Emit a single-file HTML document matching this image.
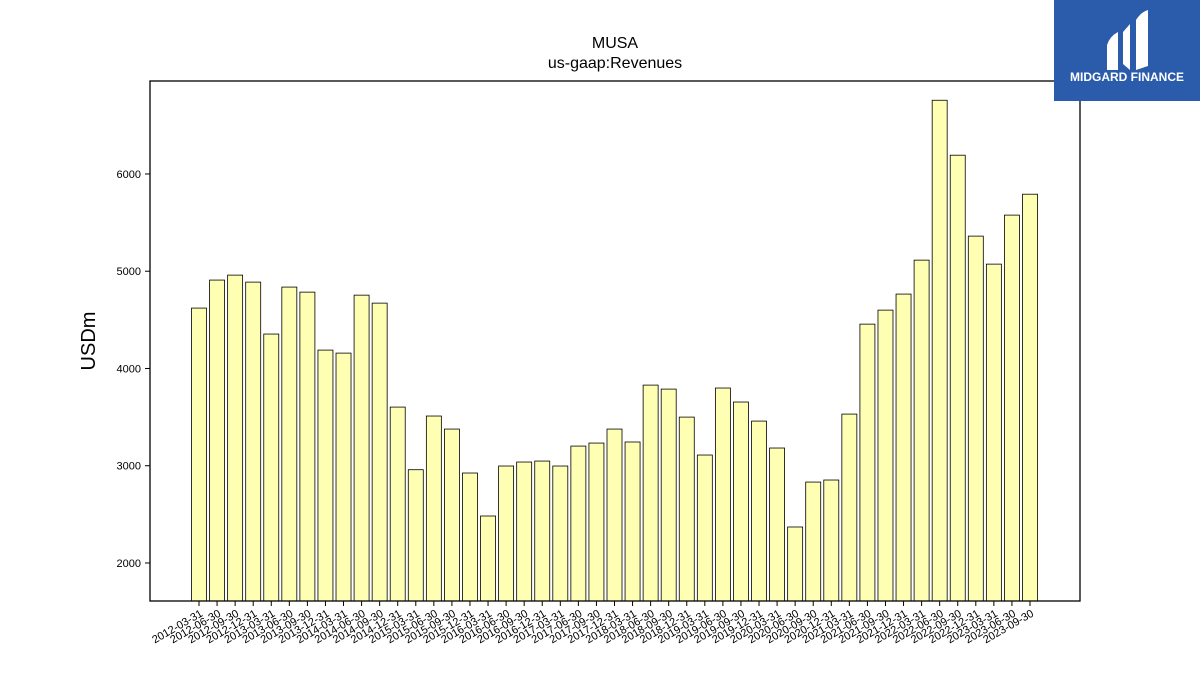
<!DOCTYPE html>
<html><head><meta charset="utf-8"><style>
body{margin:0;background:#fff;}
svg{display:block;font-family:"Liberation Sans","DejaVu Sans",sans-serif;}
</style></head><body>
<svg id="chart" width="1200" height="675" viewBox="0 0 1200 675">
<text x="615" y="48" text-anchor="middle" font-size="16">MUSA</text>
<text x="615" y="68" text-anchor="middle" font-size="16">us-gaap:Revenues</text>
<text transform="translate(95,341) rotate(-90)" text-anchor="middle" font-size="20">USDm</text>
<g id="bars"></g>
<g id="yticks"></g>
<g id="xticks"></g>
<rect x="150" y="81" width="930" height="520" fill="none" stroke="#000" stroke-width="1.3"/>
<g>
<rect x="1054" y="0" width="146" height="101" fill="#2b5bab"/>
<path d="M1107 45 Q1110 36 1118 32 L1118 70 L1107 70 Z M1123 32 L1130 24 L1130 70 L1123 64 Z M1136 20 Q1141 12 1148 10 L1148 66 L1136 70 Z" fill="#fff"/>
<text x="1127" y="81" text-anchor="middle" font-size="12" font-weight="bold" fill="#fff">MIDGARD FINANCE</text>
</g>
</svg>
<script>
const categories=["2012-03-31","2012-06-30","2012-09-30","2012-12-31","2013-03-31","2013-06-30","2013-09-30","2013-12-31","2014-03-31","2014-06-30","2014-09-30","2014-12-31","2015-03-31","2015-06-30","2015-09-30","2015-12-31","2016-03-31","2016-06-30","2016-09-30","2016-12-31","2017-03-31","2017-06-30","2017-09-30","2017-12-31","2018-03-31","2018-06-30","2018-09-30","2018-12-31","2019-03-31","2019-06-30","2019-09-30","2019-12-31","2020-03-31","2020-06-30","2020-09-30","2020-12-31","2021-03-31","2021-06-30","2021-09-30","2021-12-31","2022-03-31","2022-06-30","2022-09-30","2022-12-31","2023-03-31","2023-06-30","2023-09-30"];
const revenues=[4621,4909,4960,4888,4354,4837,4785,4189,4158,4754,4672,3603,2959,3511,3377,2925,2483,2997,3038,3048,2997,3202,3233,3377,3244,3829,3788,3500,3110,3799,3655,3459,3182,2370,2832,2853,3531,4456,4600,4765,5114,6758,6193,5361,5073,5577,5792];
const yTicks=[2000,3000,4000,5000,6000];
const NS="http://www.w3.org/2000/svg";
const yMin=1609,yMax=6956,plotTop=81,plotBot=601;
function y(v){return plotBot-(v-yMin)/(yMax-yMin)*(plotBot-plotTop);}
const x0=199,x1=1030;
function x(i){return x0+i*(x1-x0)/(categories.length-1);}
const bw=15;
const bars=document.getElementById('bars'),xt=document.getElementById('xticks'),yt=document.getElementById('yticks');
revenues.forEach((v,i)=>{
const r=document.createElementNS(NS,'rect');


r.setAttribute('x',x(i)-bw/2);r.setAttribute('y',y(v));r.setAttribute('width',bw);r.setAttribute('height',plotBot-y(v));
r.setAttribute('fill','#ffffb3');r.setAttribute('stroke','#000');r.setAttribute('stroke-width','0.8');
bars.appendChild(r);
});
categories.forEach((c,i)=>{
const l=document.createElementNS(NS,'line');


l.setAttribute('x1',x(i));l.setAttribute('x2',x(i));l.setAttribute('y1',plotBot);l.setAttribute('y2',plotBot+5);l.setAttribute('stroke','#000');
xt.appendChild(l);
const t=document.createElementNS(NS,'text');


t.setAttribute('transform','translate('+(x(i)+3)+','+(plotBot+12)+') rotate(-30)');
t.setAttribute('text-anchor','end');t.setAttribute('font-size','11');t.setAttribute('dominant-baseline','middle');
t.textContent=c;xt.appendChild(t);
});
yTicks.forEach(v=>{
const l=document.createElementNS(NS,'line');


l.setAttribute('x1',145);l.setAttribute('x2',150);l.setAttribute('y1',y(v));l.setAttribute('y2',y(v));l.setAttribute('stroke','#000');
yt.appendChild(l);
const t=document.createElementNS(NS,'text');


t.setAttribute('x',141);t.setAttribute('y',y(v)+4);t.setAttribute('text-anchor','end');t.setAttribute('font-size','11');
t.textContent=v;yt.appendChild(t);
});
</script>
</body></html>
